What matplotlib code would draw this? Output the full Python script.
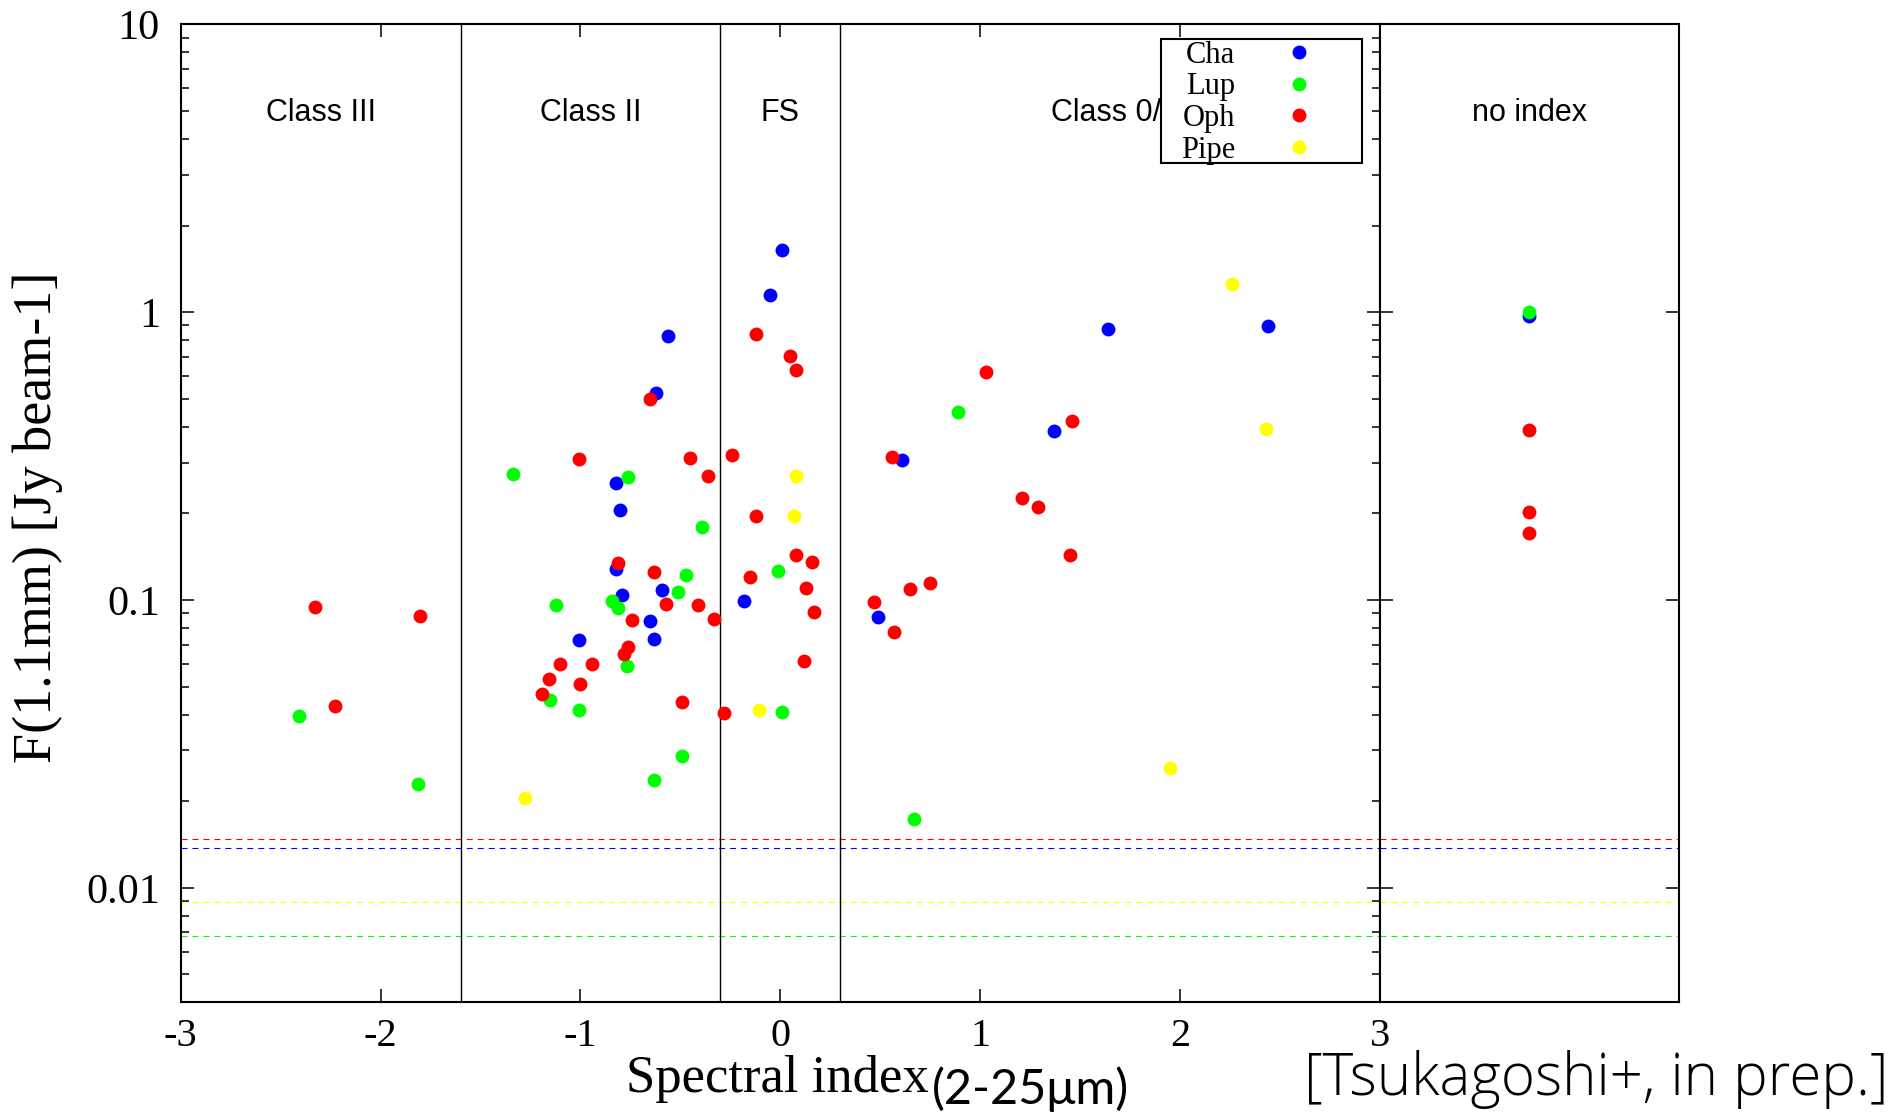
import matplotlib
matplotlib.use("Agg")
import matplotlib.pyplot as plt
from matplotlib.ticker import LogLocator, NullFormatter, FixedLocator, FixedFormatter, NullLocator
from matplotlib.font_manager import FontProperties
from matplotlib.patches import Rectangle

plt.rcParams['axes.unicode_minus'] = False
plt.rcParams['lines.scale_dashes'] = False

# ---------------- data ----------------
series_names = ["Cha", "Lup", "Oph", "Pipe"]
series_colors = ["#0000ff", "#00ff00", "#ff0000", "#ffff00"]

cha_x = [-0.562, -0.622, -0.820, -0.802, -0.820, -0.592, -0.790, -0.181, -0.650,
         -0.632, -1.009, 0.009, -0.050, 1.370, 0.611, 0.489, 1.641, 2.442]
cha_y = [0.827, 0.524, 0.254, 0.205, 0.128, 0.108, 0.104, 0.099, 0.0845,
         0.0731, 0.0725, 1.64, 1.148, 0.386, 0.3075, 0.087, 0.871, 0.896]

lup_x = [-2.41, -1.811, -1.339, -0.760, -0.390, -0.470, -0.510, -0.840, -0.810,
         -1.121, -0.768, -1.151, -1.009, -0.490, -0.630, 0.890, -0.010, 0.009, 0.671]
lup_y = [0.0395, 0.0229, 0.275, 0.267, 0.180, 0.1225, 0.1063, 0.0991, 0.094,
         0.0963, 0.0588, 0.0451, 0.0416, 0.0286, 0.0236, 0.449, 0.1257, 0.0409, 0.01736]

oph_x = [-2.330, -2.229, -1.802, -0.650, -1.009, -0.450, -0.360, -0.240, -0.123,
         -0.810, -0.632, -0.151, -0.570, -0.411, -0.331, -0.740, -0.760, -0.780,
         -1.101, -0.941, -1.159, -1.000, -1.191, -0.490, -0.281, -0.120, 0.049,
         0.081, 1.029, 0.561, 1.209, 1.289, 0.081, 0.161, 0.129, 0.169, 0.121,
         0.469, 0.650, 0.750, 0.570, 1.460, 1.450]
oph_y = [0.0946, 0.0428, 0.0882, 0.498, 0.309, 0.3125, 0.2705, 0.318, 0.1953,
         0.1343, 0.1247, 0.1198, 0.0967, 0.0963, 0.0861, 0.0849, 0.0686, 0.065,
         0.0597, 0.060, 0.053, 0.0512, 0.0471, 0.0442, 0.0406, 0.840, 0.705,
         0.630, 0.620, 0.313, 0.2268, 0.2104, 0.1432, 0.1359, 0.110, 0.0911, 0.0612,
         0.0981, 0.1089, 0.1148, 0.0777, 0.418, 0.143]

pipe_x = [-1.279, -0.105, 0.077, 0.067, 2.261, 2.432, 1.951]
pipe_y = [0.0205, 0.0416, 0.2705, 0.1964, 1.254, 0.392, 0.026]

# sources without spectral index (plotted in the side panel)
noindex_x = 3.75
noindex_cha = [0.968]
noindex_lup = [1.0]
noindex_oph = [0.39, 0.2015, 0.171]
noindex_pipe = []

# detection limits (dashed lines), same order as series
limits = [0.0137, 0.0068, 0.0148, 0.0089]

# class boundaries and labels
boundaries = [-3, -1.6, -0.3, 0.3, 3]
class_labels = ["Class III", "Class II", "FS", "Class 0/I"]
noindex_label = "no index"

xticks = [-3, -2, -1, 0, 1, 2, 3]
xtick_labels = ["-3", "-2", "-1", "0", "1", "2", "3"]
yticks = [0.01, 0.1, 1, 10]
ytick_labels = ["0.01", "0.1", "1", "10"]
ylim = (0.004, 10)
xlim_main = (-3, 3)
xlim_side = (3, 4.5)

# ---------------- figure ----------------
W, H = 1896, 1113
fig = plt.figure(figsize=(W / 100, H / 100), dpi=100)

def fx(px):
    return px / W

def fy(py):
    return 1 - py / H

left, mid, right = 180.8, 1379.8, 1679.0
top, bottom = 24.4, 1002.3
ax1 = fig.add_axes([fx(left), fy(bottom), fx(mid) - fx(left), fy(top) - fy(bottom)])
ax2 = fig.add_axes([fx(mid), fy(bottom), fx(right) - fx(mid), fy(top) - fy(bottom)])

serif = "Liberation Serif"
sans = "Liberation Sans"

for ax, xl in ((ax1, xlim_main), (ax2, xlim_side)):
    ax.set_yscale("log")
    ax.set_ylim(*ylim)
    ax.set_xlim(*xl)
    for s in ax.spines.values():
        s.set_linewidth(1.5)
        s.set_color("black")
    for c, lim in zip(series_colors, limits):
        ax.axhline(lim, color=c, lw=0.8, dashes=(4.3, 3.6), zorder=1)

# main panel ticks
ax1.xaxis.set_major_locator(FixedLocator(xticks))
ax1.xaxis.set_major_formatter(FixedFormatter(xtick_labels))
ax1.xaxis.set_minor_locator(NullLocator())
ax1.yaxis.set_major_locator(FixedLocator(yticks))
ax1.yaxis.set_major_formatter(FixedFormatter(ytick_labels))
ax1.yaxis.set_minor_locator(LogLocator(base=10, subs=range(2, 10)))
ax1.yaxis.set_minor_formatter(NullFormatter())
ax1.tick_params(which="both", direction="in", top=True, right=True, width=1.1)
ax1.tick_params(which="major", length=9.6)
ax1.tick_params(which="minor", length=5.5)
ax1.tick_params(axis="y", which="major", pad=15)
ax1.tick_params(axis="x", which="major", pad=11)
for lab in ax1.get_xticklabels():
    lab.set_fontfamily(serif)
    lab.set_fontsize(29)
for lab in ax1.get_yticklabels():
    lab.set_fontfamily(serif)
    lab.set_fontsize(30.5)

# side panel ticks
ax2.xaxis.set_major_locator(NullLocator())
ax2.xaxis.set_minor_locator(NullLocator())
ax2.yaxis.set_major_locator(FixedLocator(yticks))
ax2.yaxis.set_minor_locator(NullLocator())
ax2.yaxis.set_major_formatter(NullFormatter())
ax2.yaxis.set_minor_formatter(NullFormatter())
ax2.tick_params(which="both", direction="in", left=True, right=True, width=1.1, length=9.6)

# class boundaries
for b in boundaries[1:-1]:
    ax1.axvline(b, color="black", lw=1.0, zorder=2)

# class labels
label_y = 4.6
for i, lab in enumerate(class_labels):
    xc = 0.5 * (boundaries[i] + boundaries[i + 1])
    ax1.text(xc, label_y, lab, ha="center", va="baseline", fontfamily=sans,
             fontsize=22, zorder=3)
ax2.text(0.5 * (xlim_side[0] + xlim_side[1]), label_y, noindex_label, ha="center",
         va="baseline", fontfamily=sans, fontsize=22)

# data points
main_data = [(cha_x, cha_y), (lup_x, lup_y), (oph_x, oph_y), (pipe_x, pipe_y)]
side_data = [noindex_cha, noindex_lup, noindex_oph, noindex_pipe]
for name, col, (xs, ys), side in zip(series_names, series_colors, main_data, side_data):
    ax1.plot(xs, ys, "o", ms=10, color=col, mec="none", label=name, zorder=4)
    if side:
        ax2.plot([noindex_x] * len(side), side, "o", ms=10, color=col, mec="none", zorder=4)

# legend box (frame drawn separately so padding can differ horizontally/vertically)
box = Rectangle((fx(1161), fy(163.2)), (1361.6 - 1161) / W, (163.2 - 38.6) / H,
                transform=fig.transFigure, facecolor="white", edgecolor="black",
                lw=1.5, zorder=5, clip_on=False)
ax1.add_patch(box)

leg = ax1.legend(loc="upper left", bbox_to_anchor=(fx(1181), fy(40.6)),
                 bbox_transform=fig.transFigure, markerfirst=False, frameon=False,
                 prop=FontProperties(family=serif, size=22), handlelength=2.0,
                 handletextpad=1.1, borderpad=0, labelspacing=0.09, borderaxespad=0)
leg.set_zorder(6)

# axis labels
fig.text(fx(38), fy(517), "F(1.1mm) [Jy beam-1]", rotation=90, ha="center", va="center",
         fontfamily=serif, fontsize=39)
fig.text(fx(929), fy(1092), "Spectral index", ha="right", va="baseline",
         fontfamily=serif, fontsize=38)
fig.text(fx(932), fy(1104), "(2-25μm)", ha="left", va="baseline",
         fontfamily=["Lato", "DejaVu Sans"], fontsize=35)
fig.text(fx(1889), fy(1095), "[Tsukagoshi+, in prep.]", ha="right", va="baseline",
         fontfamily=["Open Sans", "DejaVu Sans"], fontweight=300, fontsize=42)

fig.savefig("out.png", dpi=100)
